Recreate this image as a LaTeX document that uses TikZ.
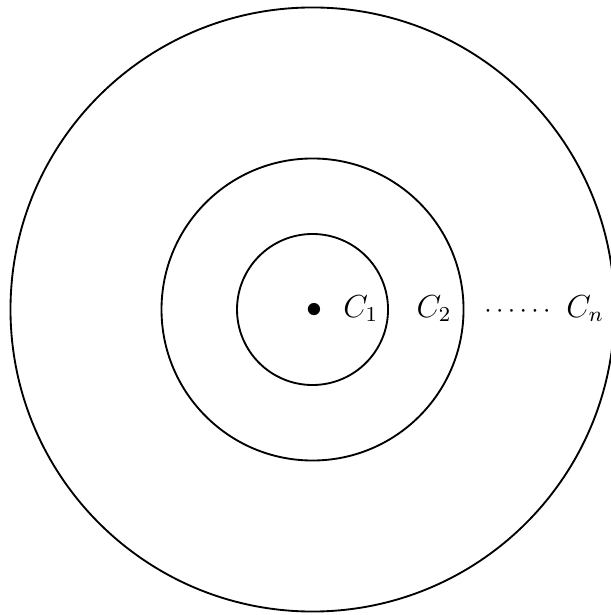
\documentclass[tikz,border=0pt]{standalone}
\begin{document}
\begin{tikzpicture}[
  ring/.style={draw, line width=0.7pt},
  lbl/.style={inner sep=0pt, anchor=base, font=\fontsize{12}{14}\selectfont}
]
\useasboundingbox (-4.139,-4.046) rectangle (3.940,4.099);
\coordinate (O) at (0,0);
\draw[ring] (O) circle (1);
\draw[ring] (O) circle (2);
\draw[ring] (O) circle (4);
\node[lbl] (dot) at (0.02,-0.1) {$\bullet$};
\node[lbl] (c1) at (0.64,-0.1) {$C_1$};
\node[lbl] (c2) at (1.61,-0.1) {$C_2$};
\node[inner sep=0pt, anchor=base] (dd) at (2.715,-0.1) {$\cdots\cdots$};
\node[lbl] (cn) at (3.61,-0.1) {$C_n$};
\end{tikzpicture}
\end{document}
